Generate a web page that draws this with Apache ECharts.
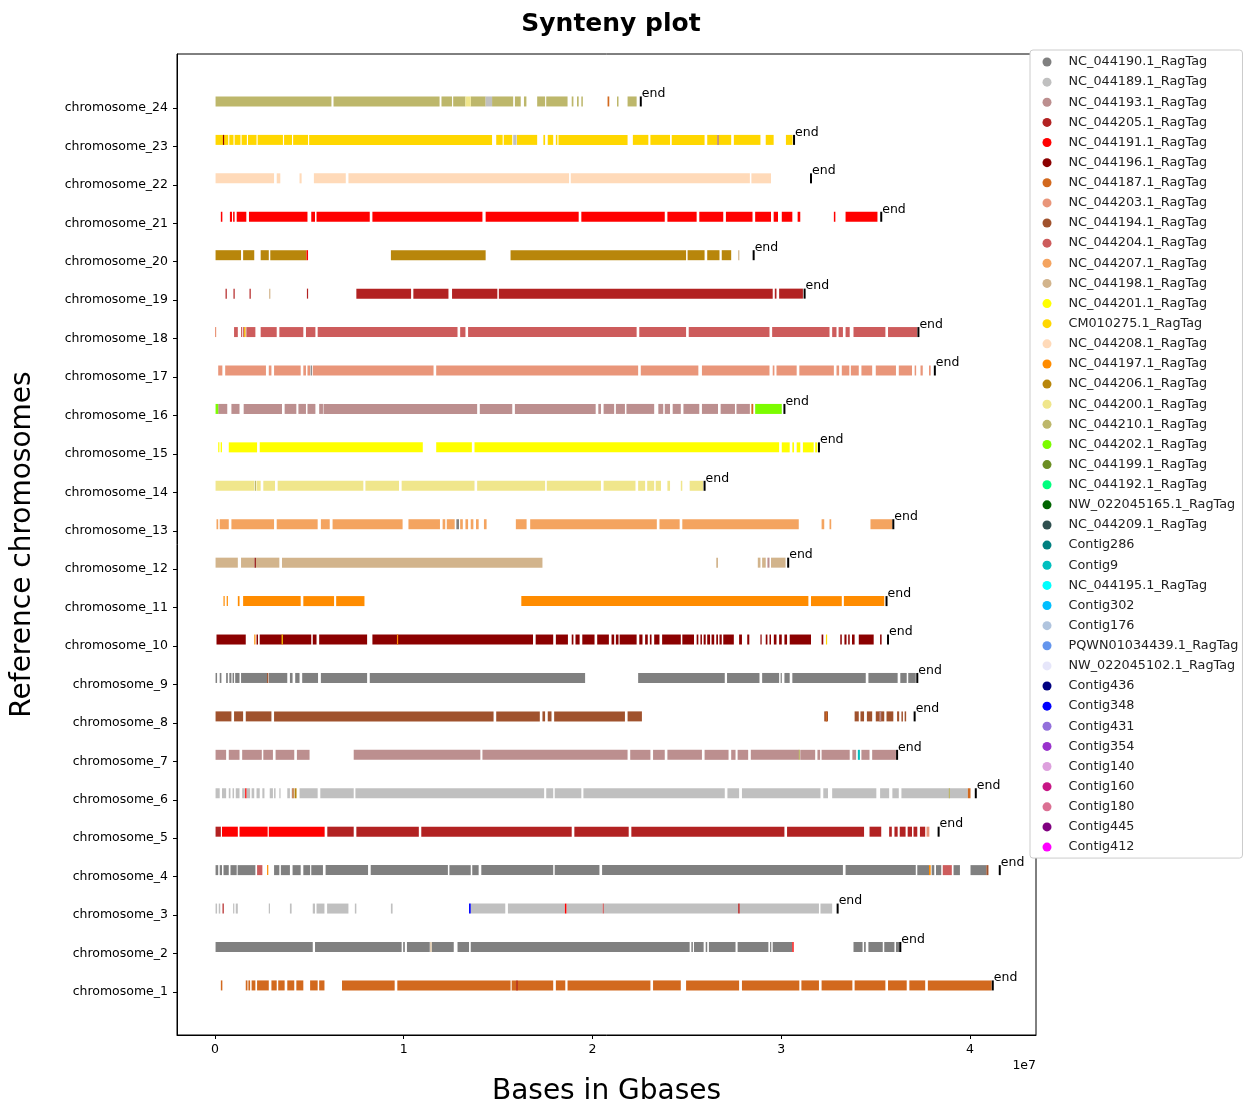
<!DOCTYPE html>
<html>
<head>
<meta charset="utf-8">
<script src="https://cdn.jsdelivr.net/npm/echarts@6/dist/echarts.min.js"></script>
<style>
html, body { margin: 0; padding: 0; background: #fff; }
#chart { width: 1245px; height: 1105px; }
</style>
</head>
<body>
<div id="chart"></div>
<script>
// y tick labels, bottom to top
const chromosomes = ['chromosome_1','chromosome_2','chromosome_3','chromosome_4','chromosome_5','chromosome_6',
	'chromosome_7','chromosome_8','chromosome_9','chromosome_10','chromosome_11','chromosome_12',
	'chromosome_13','chromosome_14','chromosome_15','chromosome_16','chromosome_17','chromosome_18',
	'chromosome_19','chromosome_20','chromosome_21','chromosome_22','chromosome_23','chromosome_24'];

// chromosome length ("end" marker), in Mb
const chromLength = [41.21, 36.31, 32.99, 41.58, 38.34, 40.31, 36.14, 37.07, 37.21, 35.66, 35.58, 30.37,
	35.94, 25.94, 32.0, 30.17, 38.14, 37.27, 31.24, 28.54, 35.3, 31.58, 30.68, 22.56];

const xTicks = [0, 1e7, 2e7, 3e7, 4e7];

// legend entries and colours
const contigNames = ['NC_044190.1_RagTag','NC_044189.1_RagTag','NC_044193.1_RagTag','NC_044205.1_RagTag',
	'NC_044191.1_RagTag','NC_044196.1_RagTag','NC_044187.1_RagTag','NC_044203.1_RagTag','NC_044194.1_RagTag',
	'NC_044204.1_RagTag','NC_044207.1_RagTag','NC_044198.1_RagTag','NC_044201.1_RagTag','CM010275.1_RagTag',
	'NC_044208.1_RagTag','NC_044197.1_RagTag','NC_044206.1_RagTag','NC_044200.1_RagTag','NC_044210.1_RagTag',
	'NC_044202.1_RagTag','NC_044199.1_RagTag','NC_044192.1_RagTag','NW_022045165.1_RagTag','NC_044209.1_RagTag',
	'Contig286','Contig9','NC_044195.1_RagTag','Contig302','Contig176','PQWN01034439.1_RagTag',
	'NW_022045102.1_RagTag','Contig436','Contig348','Contig431','Contig354','Contig140','Contig160',
	'Contig180','Contig445','Contig412'];
const contigColors = ['#808080','#c0c0c0','#bc8f8f','#b22222','#ff0000','#8b0000','#d2691e','#e9967a','#a0522d',
	'#cd5c5c','#f4a460','#d2b48c','#ffff00','#ffd700','#ffdab9','#ff8c00','#b8860b','#f0e68c','#bdb76b',
	'#7cfc00','#6b8e23','#00ff7f','#006400','#2f4f4f','#008080','#00bfbf','#00ffff','#00bfff','#b0c4de',
	'#6495ed','#e6e6fa','#000080','#0000ff','#9370db','#9932cc','#dda0dd','#c71585','#db7093','#800080','#ff00ff'];

// main contig of each chromosome (chromosome_1 .. chromosome_24)
const mainContig = ['NC_044187.1_RagTag','NC_044190.1_RagTag','NC_044189.1_RagTag','NC_044190.1_RagTag',
	'NC_044205.1_RagTag','NC_044189.1_RagTag','NC_044193.1_RagTag','NC_044194.1_RagTag','NC_044190.1_RagTag',
	'NC_044196.1_RagTag','NC_044197.1_RagTag','NC_044198.1_RagTag','NC_044207.1_RagTag','NC_044200.1_RagTag',
	'NC_044201.1_RagTag','NC_044193.1_RagTag','NC_044203.1_RagTag','NC_044204.1_RagTag','NC_044205.1_RagTag',
	'NC_044206.1_RagTag','NC_044191.1_RagTag','NC_044208.1_RagTag','CM010275.1_RagTag','NC_044210.1_RagTag'];

// syntenic blocks [start, end] in Mb, main contig colour
const chr1Blocks = [[0.31,0.39],[1.63,1.72],[1.77,1.86],[1.94,2.14],[2.23,2.85],[2.99,3.27],[3.35,3.69],[3.83,4.2],
	[4.31,4.68],[5.04,5.44],[5.52,5.8],[6.73,9.52],[9.66,15.66],[15.72,17.92],[18.06,18.56],[18.68,23.07],
	[23.21,24.68],[24.96,27.77],[27.92,30.96],[31.07,32.0],[32.14,33.77],[33.89,35.52],[35.66,36.65],
	[36.79,37.63],[37.77,41.15]];
const chr2Blocks = [[0.03,5.18],[5.3,9.89],[9.97,10.06],[10.17,11.38],[11.49,12.65],[12.85,13.46],[13.55,25.15],
	[25.24,25.32],[25.38,25.89],[26.0,26.08],[26.17,27.58],[27.69,29.32],[29.41,29.46],[29.55,30.59],
	[33.83,34.31],[34.39,34.48],[34.62,35.38],[35.46,36.0],[36.08,36.28]];
const chr3Blocks = [[0.03,0.11],[0.2,0.28],[0.96,1.01],[1.1,1.21],[2.85,2.9],[3.97,4.06],[5.18,5.3],[5.38,5.8],
	[5.94,7.07],[7.41,7.49],[9.32,9.41],[13.55,15.38],[15.52,18.54],[18.62,20.54],[20.59,27.72],[27.8,32.0],
	[32.08,32.7]];
const chr4Blocks = [[0.03,0.17],[0.25,0.37],[0.45,0.73],[0.82,1.15],[1.2,2.14],[3.13,3.41],[3.49,3.97],[4.11,4.54],
	[4.68,5.04],[5.1,5.72],[5.86,8.11],[8.25,12.34],[12.42,13.55],[13.63,13.97],[14.11,17.92],[18.0,20.37],
	[20.51,33.27],[33.41,37.13],[37.21,37.83],[37.97,38.11],[38.2,38.48],[39.13,39.47],[40.03,40.87]];
const chr5Blocks = [[0.03,0.31],[5.95,7.35],[7.49,10.8],[10.93,18.9],[19.04,21.92],[22.06,30.17],[30.31,34.39],
	[34.68,35.3],[35.72,35.86],[36.0,36.17],[36.28,36.59],[36.7,36.93],[37.01,37.21],[37.35,37.63]];
const chr6Blocks = [[0.03,0.25],[0.37,0.59],[0.73,0.82],[0.93,1.01],[1.1,1.3],[1.44,1.58],[1.66,1.86],[1.94,2.08],
	[2.2,2.37],[2.51,2.62],[2.9,3.07],[3.13,3.21],[3.41,3.46],[3.83,3.97],[4.06,4.2],[4.48,5.44],[5.58,7.35],
	[7.44,17.44],[17.55,17.92],[18.0,19.41],[19.52,27.01],[27.15,27.77],[27.92,32.08],[32.23,32.48],
	[32.7,35.04],[35.24,35.72],[35.89,36.23],[36.37,39.89]];
const chr7Blocks = [[0.03,0.59],[0.73,1.3],[1.44,2.48],[2.56,3.07],[3.21,4.2],[4.34,5.01],[7.35,14.06],
	[14.17,21.86],[22.0,23.07],[23.21,23.83],[23.97,25.8],[25.94,27.21],[27.35,27.58],[27.69,28.25],
	[28.39,30.96],[31.01,31.8],[31.92,32.06],[32.14,33.63],[33.77,33.97],[34.25,34.68],[34.82,36.08]];
const chr8Blocks = [[0.03,0.87],[1.01,1.49],[1.63,2.99],[3.13,14.76],[14.9,17.21],[17.35,17.49],[17.63,17.83],
	[17.97,21.72],[21.86,22.62],[32.28,32.48],[33.89,34.11],[34.2,34.39],[34.54,34.82],[35.01,35.46],
	[35.58,35.94],[36.14,36.25],[36.37,36.45],[36.54,36.62]];
const chr9Blocks = [[0.03,0.11],[0.25,0.34],[0.59,0.68],[0.76,0.87],[0.93,1.01],[1.07,1.3],[1.38,2.79],
	[2.85,3.83],[3.97,4.11],[4.25,4.48],[4.62,5.46],[5.61,8.06],[8.2,19.61],[22.42,27.01],[27.13,28.85],
	[28.99,29.89],[29.97,30.03],[30.17,30.45],[30.59,34.48],[34.62,36.17],[36.31,36.65],[36.73,37.13]];
const chr10Blocks = [[0.08,1.63],[2.2,2.28],[2.37,5.1],[5.18,5.38],[5.52,8.06],[8.34,16.85],[16.99,17.92],
	[18.06,18.7],[18.9,18.99],[19.1,19.32],[19.46,20.11],[20.25,20.87],[21.01,21.15],[21.24,21.38],
	[21.44,22.34],[22.48,22.65],[22.79,22.93],[23.04,23.13],[23.27,23.55],[23.69,24.68],[24.76,25.38],
	[25.52,25.61],[25.72,25.8],[25.89,26.0],[26.08,26.23],[26.31,26.45],[26.56,26.65],[26.73,26.85],
	[26.93,27.49],[27.77,27.92],[28.2,28.31],[28.9,28.96],[29.18,29.27],[29.38,29.46],[29.61,29.75],
	[29.89,30.03],[30.17,30.31],[30.45,31.58],[32.14,32.23],[33.13,33.21],[33.35,33.46],[33.55,33.63],
	[33.75,33.89],[34.11,34.9],[35.24,35.32]];
const chr11Blocks = [[0.45,0.5],[0.62,0.68],[1.21,1.3],[1.49,4.54],[4.68,6.31],[6.42,7.92],[16.23,31.44],
	[31.58,33.21],[33.32,35.46]];
const chr12Blocks = [[0.03,1.21],[1.38,2.1],[2.16,3.41],[3.55,17.35],[26.56,26.65],[28.76,28.9],[28.99,29.18],
	[29.46,30.23]];
const chr13Blocks = [[0.08,0.17],[0.25,0.73],[0.87,3.13],[3.27,5.44],[5.61,6.08],[6.23,9.94],[10.25,11.92],
	[12.06,12.2],[12.28,12.7],[12.99,13.13],[13.27,13.41],[13.55,13.69],[13.83,13.97],[14.25,14.39],
	[15.94,16.51],[16.7,23.41],[23.55,24.62],[24.76,30.93],[32.14,32.28],[32.56,32.65],[34.73,35.89]];
const chr14Blocks = [[0.03,2.08],[2.2,2.42],[2.56,3.18],[3.32,7.86],[7.97,9.75],[9.89,13.75],[13.89,17.49],
	[17.58,20.45],[20.59,22.28],[22.42,22.79],[22.9,23.27],[23.35,23.63],[23.97,24.11],[24.68,24.76],
	[25.15,25.86]];
const chr15Blocks = [[0.17,0.23],[0.3,0.37],[0.73,2.23],[2.37,11.01],[11.72,13.61],[13.75,29.89],[30.03,30.45],
	[30.59,30.68],[30.82,31.01],[31.15,31.72],[31.8,31.91]];
const chr16Blocks = [[0.17,0.65],[0.87,1.3],[1.52,3.55],[3.69,4.31],[4.42,4.82],[4.9,5.32],[5.52,5.72],
	[5.75,13.89],[14.03,15.75],[15.89,20.17],[20.31,20.45],[20.59,21.15],[21.24,21.72],[21.8,23.27],
	[23.49,23.75],[23.83,24.11],[24.25,24.68],[24.82,25.66],[25.8,26.65],[26.79,27.55],[27.63,28.34]];
const chr17Blocks = [[0.17,0.39],[0.54,2.7],[2.85,2.99],[3.13,4.54],[4.68,4.82],[4.9,5.04],[5.18,11.58],
	[11.72,22.42],[22.56,25.61],[25.8,29.38],[29.55,29.64],[29.75,30.82],[30.96,32.79],[32.93,33.07],
	[33.21,33.61],[33.69,34.11],[34.25,34.82],[35.01,36.08],[36.23,36.93],[37.07,37.15],[37.38,37.5],
	[37.83,37.92]];
const chr18Blocks = [[1.01,1.21],[1.38,1.44],[1.49,1.61],[1.66,2.14],[2.42,3.27],[3.41,4.68],[4.82,5.32],
	[5.44,12.85],[12.99,13.27],[13.41,22.34],[22.48,24.96],[25.1,29.38],[29.52,32.56],[32.7,32.93],
	[33.04,33.27],[33.41,33.63],[33.83,35.52],[35.66,37.21]];
const chr19Blocks = [[0.56,0.62],[0.98,1.04],[1.83,1.89],[4.87,4.93],[7.49,10.39],[10.51,12.37],[12.56,14.96],
	[15.04,29.55],[29.66,29.75],[29.89,31.15]];
const chr20Blocks = [[0.03,1.38],[1.49,2.08],[2.42,2.85],[2.93,4.85],[9.32,14.34],[15.66,24.96],[25.04,25.94],
	[26.08,26.73],[26.85,27.35]];
const chr21Blocks = [[0.31,0.39],[0.79,0.9],[0.96,1.04],[1.15,1.66],[1.8,4.9],[5.1,5.3],[5.38,8.2],[8.34,14.17],
	[14.34,19.27],[19.41,23.83],[23.97,25.52],[25.66,26.93],[27.07,28.48],[28.62,29.46],[29.6,29.83],
	[30.03,30.59],[30.87,31.01],[32.79,32.87],[33.41,35.1]];
const chr22Blocks = [[0.03,3.13],[3.27,3.46],[4.48,4.59],[5.24,6.93],[7.07,18.76],[18.85,28.34],[28.42,29.46]];
const chr23Blocks = [[0.03,0.7],[0.76,0.98],[1.04,1.35],[1.41,1.69],[1.75,2.2],[2.26,3.6],[3.66,4.08],[4.14,4.93],
	[4.99,14.68],[14.9,15.24],[15.3,15.75],[16.0,17.07],[17.4,17.49],[17.63,17.92],[18.06,18.14],[18.2,21.86],
	[22.14,22.96],[23.07,24.11],[24.2,25.94],[26.08,26.6],[26.7,27.35],[27.49,28.9],[29.18,29.6],[30.25,30.6]];
const chr24Blocks = [[0.03,6.17],[6.28,11.9],[12.0,12.56],[12.62,13.27],[13.55,14.34],[14.68,15.8],[15.89,16.2],
	[16.37,16.5],[17.07,17.49],[17.55,18.68],[18.9,18.99],[19.18,19.27],[19.41,19.49],[21.3,21.38],[21.86,22.34]];

const blocks = [chr1Blocks, chr2Blocks, chr3Blocks, chr4Blocks, chr5Blocks, chr6Blocks, chr7Blocks, chr8Blocks,
	chr9Blocks, chr10Blocks, chr11Blocks, chr12Blocks, chr13Blocks, chr14Blocks, chr15Blocks, chr16Blocks,
	chr17Blocks, chr18Blocks, chr19Blocks, chr20Blocks, chr21Blocks, chr22Blocks, chr23Blocks, chr24Blocks];

// blocks from other contigs: [chromosome, start, end, contig]
const accents = [
	[24, 13.27, 13.55, 'NC_044200.1_RagTag'], [24, 14.34, 14.68, 'NC_044189.1_RagTag'], [24, 20.80, 20.89, 'NC_044187.1_RagTag'],
	[23, 0.42, 0.48, 'NC_044196.1_RagTag'], [23, 15.80, 15.98, 'NC_044189.1_RagTag'], [23, 26.62, 26.68, 'NC_044194.1_RagTag'],
	[20, 4.85, 4.93, 'NC_044191.1_RagTag'], [20, 27.72, 27.78, 'NC_044198.1_RagTag'],
	[19, 2.87, 2.93, 'NC_044198.1_RagTag'],
	[18, 0.00, 0.06, 'NC_044203.1_RagTag'], [18, 1.55, 1.60, 'CM010275.1_RagTag'],
	[17, 5.07, 5.12, 'NC_044190.1_RagTag'],
	[16, 0.03, 0.17, 'NC_044202.1_RagTag'], [16, 28.42, 28.52, 'NC_044187.1_RagTag'], [16, 28.62, 30.03, 'NC_044202.1_RagTag'],
	[14, 2.11, 2.16, 'NC_044210.1_RagTag'],
	[13, 12.79, 12.93, 'NC_044190.1_RagTag'],
	[12, 2.10, 2.16, 'NC_044196.1_RagTag'], [12, 29.27, 29.38, 'NC_044193.1_RagTag'],
	[10, 2.08, 2.14, 'NC_044197.1_RagTag'], [10, 3.53, 3.58, 'CM010275.1_RagTag'], [10, 9.64, 9.68, 'NC_044197.1_RagTag'],
	[10, 32.37, 32.42, 'CM010275.1_RagTag'],
	[9, 2.76, 2.82, 'NC_044194.1_RagTag'],
	[8, 32.36, 32.42, 'NC_044187.1_RagTag'], [8, 35.20, 35.30, 'NC_044193.1_RagTag'],
	[7, 30.93, 30.99, 'NC_044210.1_RagTag'], [7, 34.06, 34.17, 'Contig9'],
	[6, 1.60, 1.66, 'NC_044191.1_RagTag'], [6, 4.10, 4.16, 'NC_044187.1_RagTag'], [6, 4.22, 4.32, 'NC_044206.1_RagTag'],
	[6, 38.88, 38.94, 'NC_044210.1_RagTag'], [6, 39.89, 40.03, 'NC_044187.1_RagTag'],
	[5, 0.37, 1.21, 'NC_044191.1_RagTag'], [5, 1.30, 2.79, 'NC_044191.1_RagTag'], [5, 2.85, 5.81, 'NC_044191.1_RagTag'],
	[5, 37.70, 37.85, 'NC_044203.1_RagTag'],
	[4, 2.23, 2.51, 'NC_044204.1_RagTag'], [4, 2.76, 2.82, 'NC_044197.1_RagTag'], [4, 37.83, 37.92, 'NC_044197.1_RagTag'],
	[4, 38.56, 39.04, 'NC_044204.1_RagTag'], [4, 40.87, 40.98, 'NC_044194.1_RagTag'],
	[3, 0.40, 0.46, 'NC_044205.1_RagTag'], [3, 13.46, 13.55, 'Contig348'], [3, 18.54, 18.62, 'NC_044191.1_RagTag'],
	[3, 20.54, 20.59, 'NC_044204.1_RagTag'], [3, 27.72, 27.80, 'NC_044205.1_RagTag'],
	[2, 11.41, 11.47, 'NC_044198.1_RagTag'], [2, 30.59, 30.66, 'NC_044191.1_RagTag'],
	[1, 15.97, 16.03, 'NC_044205.1_RagTag']
];

const MB = 1e6;
const barShift = 0.17;   // bars sit a little above their tick
const barHeight = 10;
const font = 'DejaVu Sans';
const yTicks = chromosomes.map((n, i) => i + 1);

function drawBlock(params, api) {
	let y = api.value(0) + barShift;
	let a = api.coord([api.value(1), y]);
	let b = api.coord([api.value(2), y]);
	return {
		type: 'rect',
		shape: { x: a[0], y: a[1] - barHeight / 2, width: Math.max(b[0] - a[0], 1.2), height: barHeight },
		style: { fill: api.visual('color') }
	};
}

function drawEnd(params, api) {
	let p = api.coord([api.value(1), api.value(0) + barShift]);
	return {
		type: 'group',
		children: [
			{ type: 'rect', shape: { x: p[0] - 1, y: p[1] - barHeight / 2, width: 2, height: barHeight }, style: { fill: '#000' } },
			{ type: 'text', x: p[0] + 1, y: p[1] - 1,
				style: { text: 'end', fill: '#000', font: '12.5px "DejaVu Sans"', textAlign: 'left', textVerticalAlign: 'bottom' } }
		]
	};
}

let series = [];
for (let c in contigNames) {
	let name = contigNames[c];
	let main = [];
	for (let i = 0; i < blocks.length; i++) {
		if (mainContig[i] != name) continue;
		for (let b of blocks[i]) main.push([i + 1, b[0] * MB, b[1] * MB]);
	}
	series.push({
		type: 'custom', name: name, renderItem: drawBlock, z: 2,
		itemStyle: { color: contigColors[c] },
		encode: { x: [1, 2], y: 0 },
		data: main
	});
	let extra = accents.filter(a => a[3] == name).map(a => [a[0], a[1] * MB, a[2] * MB]);
	if (extra.length) {
		series.push({
			type: 'custom', name: name, renderItem: drawBlock, z: 3,
			itemStyle: { color: contigColors[c] },
			encode: { x: [1, 2], y: 0 },
			data: extra
		});
	}
}
series.push({
	type: 'custom', name: 'end', renderItem: drawEnd, z: 4,
	encode: { x: 1, y: 0 },
	data: chromLength.map((len, i) => [i + 1, len * MB])
});

let chart = echarts.init(document.getElementById('chart'));
chart.setOption({
	animation: false,
	backgroundColor: '#fff',
	title: {
		text: 'Synteny plot', left: 606, top: 7, textAlign: 'center',
		textStyle: { fontFamily: font, fontWeight: 'bold', fontSize: 25, color: '#000' }
	},
	grid: {
		left: 177, top: 54, right: 209, bottom: 70,
		outerBoundsMode: 'none', containLabel: false,
		show: true, borderColor: '#000', borderWidth: 1, backgroundColor: 'transparent'
	},
	legend: {
		data: contigNames, orient: 'vertical', left: 1030, top: 50, z: 10,
		icon: 'circle', itemWidth: 9, itemHeight: 9, itemGap: 6.13,
		padding: [5, 4, 4, 12.5],
		backgroundColor: '#fff', borderColor: '#cccccc', borderWidth: 1, borderRadius: 3,
		textStyle: { fontFamily: font, fontSize: 12.8, color: '#222', lineHeight: 14, padding: [0, 0, 0, 12] }
	},
	xAxis: {
		type: 'value', min: -2.013 * MB, max: 43.5 * MB,
		name: 'Bases in Gbases', nameLocation: 'middle', nameGap: 43,
		nameTextStyle: { fontFamily: font, fontSize: 28, color: '#000' },
		axisLine: { show: true, onZero: false, lineStyle: { color: '#000' } },
		axisTick: { show: true, length: 4, customValues: xTicks, lineStyle: { color: '#000' } },
		axisLabel: { customValues: xTicks, margin: 8, fontFamily: font, fontSize: 12.5, color: '#000',
			formatter: v => String(v / 1e7) },
		splitLine: { show: false }
	},
	yAxis: {
		type: 'value', min: -0.12, max: 25.405,
		name: 'Reference chromosomes', nameLocation: 'middle', nameGap: 140,
		nameTextStyle: { fontFamily: font, fontSize: 28, color: '#000' },
		axisLine: { show: true, onZero: false, lineStyle: { color: '#000' } },
		axisTick: { show: true, length: 4, customValues: yTicks, lineStyle: { color: '#000' } },
		axisLabel: { customValues: yTicks, margin: 9, fontFamily: font, fontSize: 12.5, color: '#000',
			formatter: v => chromosomes[v - 1] },
		splitLine: { show: false }
	},
	graphic: [{
		type: 'text', right: 1245 - 1036, top: 1059,
		style: { text: '1e7', font: '12.5px "DejaVu Sans"', fill: '#000' }
	}],
	series: series
});
</script>
</body>
</html>
